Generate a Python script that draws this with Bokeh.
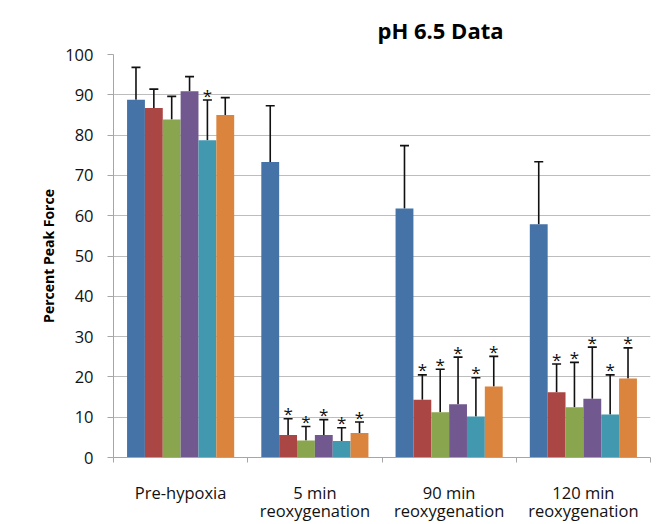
from bokeh.plotting import figure
from bokeh.models import Range1d, FixedTicker, Whisker, TeeHead, ColumnDataSource, LinearAxis
from bokeh.core.properties import value
from bokeh.embed import file_html
from bokeh.resources import INLINE

categories_line1 = ["Pre-hypoxia", "5 min", "90 min", "120 min"]
categories_line2 = ["", "reoxygenation", "reoxygenation", "reoxygenation"]
y_ticks = [0, 10, 20, 30, 40, 50, 60, 70, 80, 90, 100]

s1_mean = [88.8, 73.3, 61.8, 57.9]
s1_sd = [8.0, 14.0, 15.6, 15.5]
s1_sig = [0, 0, 0, 0]

s2_mean = [86.7, 5.6, 14.3, 16.2]
s2_sd = [4.7, 4.0, 6.2, 7.0]
s2_sig = [0, 1, 1, 1]

s3_mean = [83.9, 4.2, 11.2, 12.5]
s3_sd = [5.7, 3.5, 10.7, 11.1]
s3_sig = [0, 1, 1, 1]

s4_mean = [90.9, 5.6, 13.2, 14.6]
s4_sd = [3.6, 3.8, 11.7, 12.8]
s4_sig = [0, 1, 1, 1]

s5_mean = [78.7, 4.1, 10.2, 10.7]
s5_sd = [10.0, 3.3, 9.6, 9.8]
s5_sig = [1, 1, 1, 1]

s6_mean = [85.0, 6.1, 17.6, 19.6]
s6_sd = [4.3, 2.7, 7.5, 7.6]
s6_sig = [0, 1, 1, 1]

colors = ["#4572A7", "#AA4643", "#89A54E", "#71588F", "#4198AF", "#DB843D"]

series = [
    (s1_mean, s1_sd, s1_sig),
    (s2_mean, s2_sd, s2_sig),
    (s3_mean, s3_sd, s3_sig),
    (s4_mean, s4_sd, s4_sig),
    (s5_mean, s5_sd, s5_sig),
    (s6_mean, s6_sd, s6_sig),
]

FONT = "Open Sans"
bar_w = 0.133
n_cat = len(categories_line1)

p = figure(width=656, height=524, output_backend="svg", toolbar_location=None,
           x_range=Range1d(0, n_cat), y_range=Range1d(0, 100),
           min_border_left=113, min_border_right=6, min_border_top=54, min_border_bottom=67)

p.outline_line_color = None
p.background_fill_color = "white"
p.border_fill_color = "white"

p.title.text = "pH 6.5 Data"
p.title.text_font = FONT
p.title.text_font_size = "22px"
p.title.text_font_style = "bold"
p.title.text_color = "#000000"
p.title.align = "left"
p.title.offset = 264
p.title.standoff = 19

n = len(series)
for j, (means, sds, sigs) in enumerate(series):
    xs = [i + 0.5 + (j - (n - 1) / 2) * bar_w for i in range(n_cat)]
    tops = [m + s for m, s in zip(means, sds)]
    src = ColumnDataSource(dict(x=xs, top=means, upper=tops))
    p.vbar(x="x", top="top", bottom=0, width=bar_w, source=src,
           fill_color=colors[j], line_color=None)
    w = Whisker(base="x", lower="top", upper="upper", source=src,
                line_color="#111111", line_width=1.6,
                upper_head=TeeHead(size=9, line_color="#111111", line_width=1.6),
                lower_head=None)
    p.add_layout(w)
    sx = [x for x, s in zip(xs, sigs) if s]
    sy = [t for t, s in zip(tops, sigs) if s]
    if sx:
        p.text(x=sx, y=sy, text=["*"] * len(sx), text_font=value(FONT),
               text_font_size="17px", text_align="center", text_baseline="alphabetic",
               y_offset=-5, text_color="#111111")

p.xgrid.grid_line_color = None
p.ygrid.grid_line_color = "#bdbdbd"
p.ygrid.grid_line_width = 1.2

p.yaxis.ticker = FixedTicker(ticks=y_ticks)
p.yaxis.axis_line_color = "#a6a6a6"
p.yaxis.major_tick_line_color = "#a6a6a6"
p.yaxis.major_tick_out = 6
p.yaxis.major_tick_in = 0
p.yaxis.minor_tick_line_color = None
p.yaxis.major_label_text_font = FONT
p.yaxis.major_label_text_font_size = "16.5px"
p.yaxis.major_label_text_color = "#111111"
p.yaxis.major_label_standoff = 14
p.yaxis.axis_label = "Percent Peak Force"
p.yaxis.axis_label_text_font = FONT
p.yaxis.axis_label_text_font_size = "14px"
p.yaxis.axis_label_text_font_style = "bold"
p.yaxis.axis_label_text_color = "#000000"
p.yaxis.axis_label_standoff = 4

centers = [i + 0.5 for i in range(n_cat)]
bounds = [float(i) for i in range(n_cat + 1)]

ax1 = p.xaxis[0]
ax1.ticker = FixedTicker(ticks=centers, minor_ticks=bounds)
ax1.major_label_overrides = {c: lab for c, lab in zip(centers, categories_line1)}
ax1.axis_line_color = "#a6a6a6"
ax1.major_tick_line_color = None
ax1.major_tick_out = 0
ax1.major_tick_in = 0
ax1.minor_tick_line_color = "#a6a6a6"
ax1.minor_tick_out = 5
ax1.minor_tick_in = 0
ax1.major_label_text_font = FONT
ax1.major_label_text_font_size = "16.5px"
ax1.major_label_text_color = "#111111"
ax1.major_label_standoff = 18

ax2 = LinearAxis(ticker=FixedTicker(ticks=centers, minor_ticks=[]),
                 major_label_overrides={c: lab for c, lab in zip(centers, categories_line2)})
ax2.axis_line_color = None
ax2.major_tick_line_color = None
ax2.minor_tick_line_color = None
ax2.major_tick_out = 0
ax2.major_tick_in = 0
ax2.minor_tick_out = 0
ax2.major_label_text_font = FONT
ax2.major_label_text_font_size = "16.5px"
ax2.major_label_text_color = "#111111"
ax2.major_label_standoff = -8
p.add_layout(ax2, "below")

open("out.html", "w").write(file_html(p, INLINE))
